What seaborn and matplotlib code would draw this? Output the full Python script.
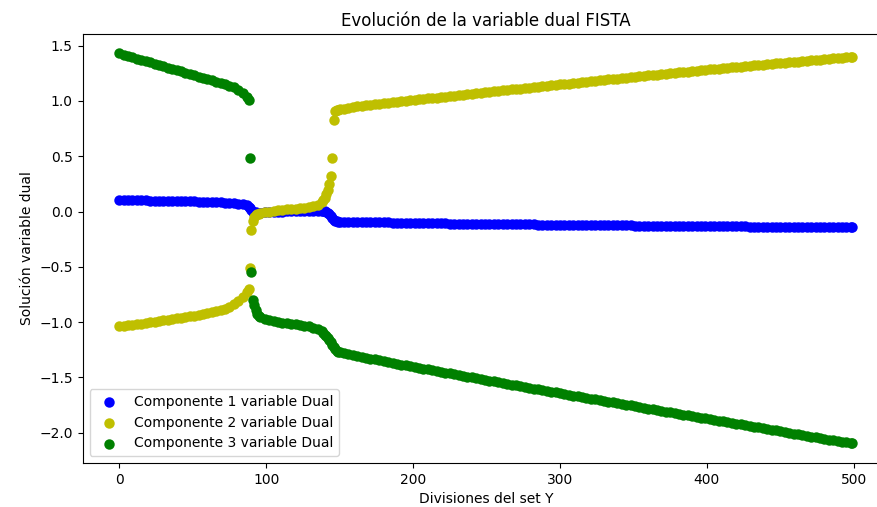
import matplotlib
matplotlib.use("Agg")
import matplotlib.pyplot as plt
import seaborn as sns

# Division index of the set Y at which each dual component was sampled
divisions = (list(range(0, 88, 3)) + list(range(88, 97)) + list(range(99, 139, 3))
             + list(range(139, 151)) + list(range(153, 499, 3)) + [499])

# Component 1 of the dual variable
comp1 = [
    # 0 .. 87
    0.105, 0.104, 0.103, 0.102, 0.101, 0.100, 0.100, 0.099, 0.098, 0.098,
    0.097, 0.097, 0.096, 0.095, 0.095, 0.094, 0.093, 0.092, 0.090, 0.088,
    0.086, 0.085, 0.084, 0.082, 0.080, 0.078, 0.075, 0.071, 0.066, 0.055,
    # 88 .. 96
    0.045, 0.030, 0.012, 0.000, -0.005, -0.008, -0.010, -0.010, -0.010,
    # 99 .. 138
    -0.008, -0.006, -0.004, -0.002, 0.000, 0.002, 0.003, 0.004, 0.005, 0.006,
    0.007, 0.008, 0.008, 0.007,
    # 139 .. 150
    0.005, 0.002, -0.003, -0.012, -0.025, -0.042, -0.060, -0.076, -0.086, -0.090,
    -0.092, -0.093,
    # 153 .. 499
    -0.094, -0.095, -0.095, -0.096, -0.096, -0.097, -0.097, -0.098, -0.098, -0.099,
    -0.099, -0.100, -0.100, -0.101, -0.101, -0.102, -0.104, -0.106, -0.107, -0.107,
    -0.107, -0.108, -0.108, -0.108, -0.109, -0.109, -0.109, -0.110, -0.110, -0.110,
    -0.111, -0.111, -0.111, -0.112, -0.112, -0.112, -0.113, -0.113, -0.113, -0.114,
    -0.114, -0.114, -0.115, -0.116, -0.118, -0.119, -0.120, -0.120, -0.120, -0.121,
    -0.121, -0.121, -0.122, -0.122, -0.122, -0.122, -0.123, -0.123, -0.123, -0.124,
    -0.124, -0.124, -0.125, -0.125, -0.125, -0.126, -0.127, -0.128, -0.129, -0.130,
    -0.130, -0.130, -0.131, -0.131, -0.131, -0.131, -0.132, -0.132, -0.132, -0.132,
    -0.133, -0.133, -0.133, -0.133, -0.134, -0.134, -0.134, -0.134, -0.135, -0.135,
    -0.135, -0.135, -0.136, -0.137, -0.138, -0.139, -0.140, -0.140, -0.140, -0.140,
    -0.141, -0.141, -0.141, -0.141, -0.141, -0.142, -0.142, -0.142, -0.142, -0.142,
    -0.143, -0.143, -0.143, -0.143, -0.143, -0.143, -0.143,
]

# Component 2 of the dual variable
comp2 = [
    # 0 .. 87
    -1.040, -1.035, -1.030, -1.025, -1.020, -1.015, -1.010, -1.004, -0.998, -0.992,
    -0.986, -0.980, -0.974, -0.968, -0.962, -0.956, -0.949, -0.942, -0.935, -0.928,
    -0.920, -0.912, -0.903, -0.893, -0.881, -0.866, -0.840, -0.808, -0.772, -0.725,
    # 88 .. 96
    -0.700, -0.510, -0.165, -0.085, -0.050, -0.035, -0.027, -0.021, -0.017,
    # 99 .. 138
    -0.008, 0.000, 0.006, 0.012, 0.016, 0.020, 0.023, 0.026, 0.030, 0.034,
    0.040, 0.048, 0.062, 0.088,
    # 139 .. 150
    0.103, 0.125, 0.155, 0.195, 0.250, 0.325, 0.485, 0.830, 0.910, 0.916,
    0.920, 0.924,
    # 153 .. 499
    0.932, 0.939, 0.946, 0.951, 0.956, 0.961, 0.966, 0.971, 0.975, 0.980,
    0.984, 0.988, 0.992, 0.997, 1.001, 1.005, 1.009, 1.014, 1.018, 1.023,
    1.027, 1.031, 1.035, 1.040, 1.044, 1.048, 1.053, 1.057, 1.061, 1.066,
    1.070, 1.074, 1.079, 1.083, 1.087, 1.091, 1.096, 1.100, 1.104, 1.108,
    1.112, 1.117, 1.121, 1.125, 1.129, 1.133, 1.138, 1.142, 1.146, 1.150,
    1.154, 1.158, 1.162, 1.166, 1.170, 1.174, 1.179, 1.183, 1.187, 1.191,
    1.195, 1.199, 1.203, 1.207, 1.211, 1.215, 1.219, 1.223, 1.227, 1.231,
    1.235, 1.239, 1.243, 1.246, 1.250, 1.254, 1.258, 1.262, 1.266, 1.270,
    1.274, 1.278, 1.281, 1.285, 1.289, 1.292, 1.296, 1.300, 1.304, 1.307,
    1.311, 1.315, 1.318, 1.322, 1.326, 1.329, 1.333, 1.336, 1.340, 1.343,
    1.347, 1.350, 1.354, 1.357, 1.361, 1.364, 1.368, 1.371, 1.375, 1.378,
    1.381, 1.385, 1.388, 1.392, 1.395, 1.399, 1.400,
]

# Component 3 of the dual variable
comp3 = [
    # 0 .. 87
    1.430, 1.418, 1.407, 1.395, 1.384, 1.372, 1.360, 1.349, 1.337, 1.325,
    1.314, 1.302, 1.291, 1.279, 1.267, 1.256, 1.244, 1.233, 1.221, 1.209,
    1.198, 1.186, 1.175, 1.163, 1.151, 1.140, 1.124, 1.103, 1.075, 1.040,
    # 88 .. 96
    1.010, 0.485, -0.547, -0.800, -0.850, -0.895, -0.925, -0.945, -0.958,
    # 99 .. 138
    -0.975, -0.985, -0.993, -1.000, -1.005, -1.010, -1.015, -1.020, -1.025, -1.032,
    -1.040, -1.050, -1.063, -1.085,
    # 139 .. 150
    -1.098, -1.113, -1.130, -1.148, -1.165, -1.185, -1.205, -1.225, -1.245, -1.262,
    -1.270, -1.275,
    # 153 .. 499
    -1.283, -1.291, -1.299, -1.307, -1.315, -1.323, -1.331, -1.338, -1.346, -1.354,
    -1.362, -1.369, -1.377, -1.385, -1.393, -1.400, -1.407, -1.415, -1.422, -1.429,
    -1.436, -1.444, -1.451, -1.458, -1.465, -1.473, -1.480, -1.487, -1.494, -1.501,
    -1.508, -1.516, -1.523, -1.530, -1.537, -1.544, -1.551, -1.559, -1.566, -1.573,
    -1.580, -1.587, -1.594, -1.602, -1.609, -1.616, -1.623, -1.630, -1.637, -1.645,
    -1.652, -1.659, -1.666, -1.672, -1.679, -1.686, -1.693, -1.700, -1.707, -1.714,
    -1.721, -1.728, -1.735, -1.741, -1.748, -1.755, -1.762, -1.769, -1.776, -1.783,
    -1.790, -1.797, -1.804, -1.810, -1.817, -1.824, -1.831, -1.838, -1.845, -1.852,
    -1.859, -1.866, -1.872, -1.879, -1.886, -1.893, -1.900, -1.907, -1.913, -1.920,
    -1.927, -1.934, -1.941, -1.947, -1.954, -1.961, -1.968, -1.975, -1.981, -1.988,
    -1.995, -2.002, -2.009, -2.015, -2.022, -2.029, -2.036, -2.043, -2.049, -2.056,
    -2.063, -2.070, -2.077, -2.083, -2.090, -2.097, -2.099,
]

labels = ["Componente 1 variable Dual", "Componente 2 variable Dual",
          "Componente 3 variable Dual"]
colors = ["b", "y", "g"]

fig = plt.figure(figsize=(8.77, 5.07), dpi=100)
# The plotting area runs slightly past the right edge of the canvas
ax = fig.add_axes([0.0942, 0.0868, 0.9195, 0.8462])

for values, color, label in zip([comp1, comp2, comp3], colors, labels):
    sns.scatterplot(x=divisions, y=values, color=color,
                    s=36, linewidth=1.5, edgecolor="face", label=label,
                    ax=ax, legend=False)

ax.set_title("Evolución de la variable dual FISTA", fontsize=12)
ax.set_xlabel("Divisiones del set Y")
ax.set_ylabel("Solución variable dual")
ax.legend(loc="lower left")

fig.savefig("out.png", dpi=100)
